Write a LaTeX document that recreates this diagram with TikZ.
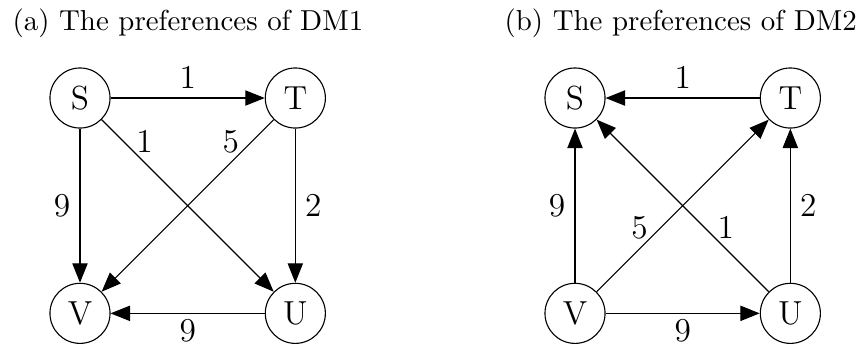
\documentclass[tikz,border=0pt]{standalone}
\usetikzlibrary{arrows.meta,positioning}
\tikzset{
  altnode/.style={circle, draw, minimum size=0.76cm, inner sep=0pt, font=\large},
  pref/.style={-{Triangle[length=7pt,width=5.5pt]}, line width=0.4pt, nodes={font=\large}},
  paneltitle/.style={anchor=base west, inner sep=0pt, font=\fontsize{10.4pt}{12pt}\selectfont},
}
\begin{document}
\begin{tikzpicture}[node distance=1.95cm]
\useasboundingbox (0,0) rectangle (10.854,4.377);

% ---------------- (a) preferences of DM1 ----------------
\node[paneltitle] (capa) at (0.152,3.985) {(a) The preferences of DM1};
\node[altnode] (Sa) at (1.012,3.137) {S};
\node[altnode, right=of Sa] (Ta) {T};
\node[altnode, below=of Sa] (Va) {V};
\node[altnode, below=of Ta] (Ua) {U};

\draw[pref] (Sa) -- node[above]{1} (Ta);
\draw[pref] (Sa) -- node[left]{9} (Va);
\draw[pref] (Sa) -- node[above, near start]{1} (Ua);
\draw[pref] (Ta) -- node[above, near start]{5} (Va);
\draw[pref] (Ta) -- node[right]{2} (Ua);
\draw[pref] (Ua) -- node[below, inner sep=2pt]{9} (Va);

% ---------------- (b) preferences of DM2 ----------------
\node[paneltitle] (capb) at (6.376,3.985) {(b) The preferences of DM2};
\node[altnode] (Sb) at (7.274,3.137) {S};
\node[altnode, right=of Sb] (Tb) {T};
\node[altnode, below=of Sb] (Vb) {V};
\node[altnode, below=of Tb] (Ub) {U};

\draw[pref] (Tb) -- node[above]{1} (Sb);
\draw[pref] (Vb) -- node[left]{9} (Sb);
\draw[pref] (Vb) -- node[above, near start]{5} (Tb);
\draw[pref] (Ub) -- node[above, near start]{1} (Sb);
\draw[pref] (Ub) -- node[right]{2} (Tb);
\draw[pref] (Vb) -- node[below, inner sep=2pt]{9} (Ub);

\end{tikzpicture}
\end{document}
